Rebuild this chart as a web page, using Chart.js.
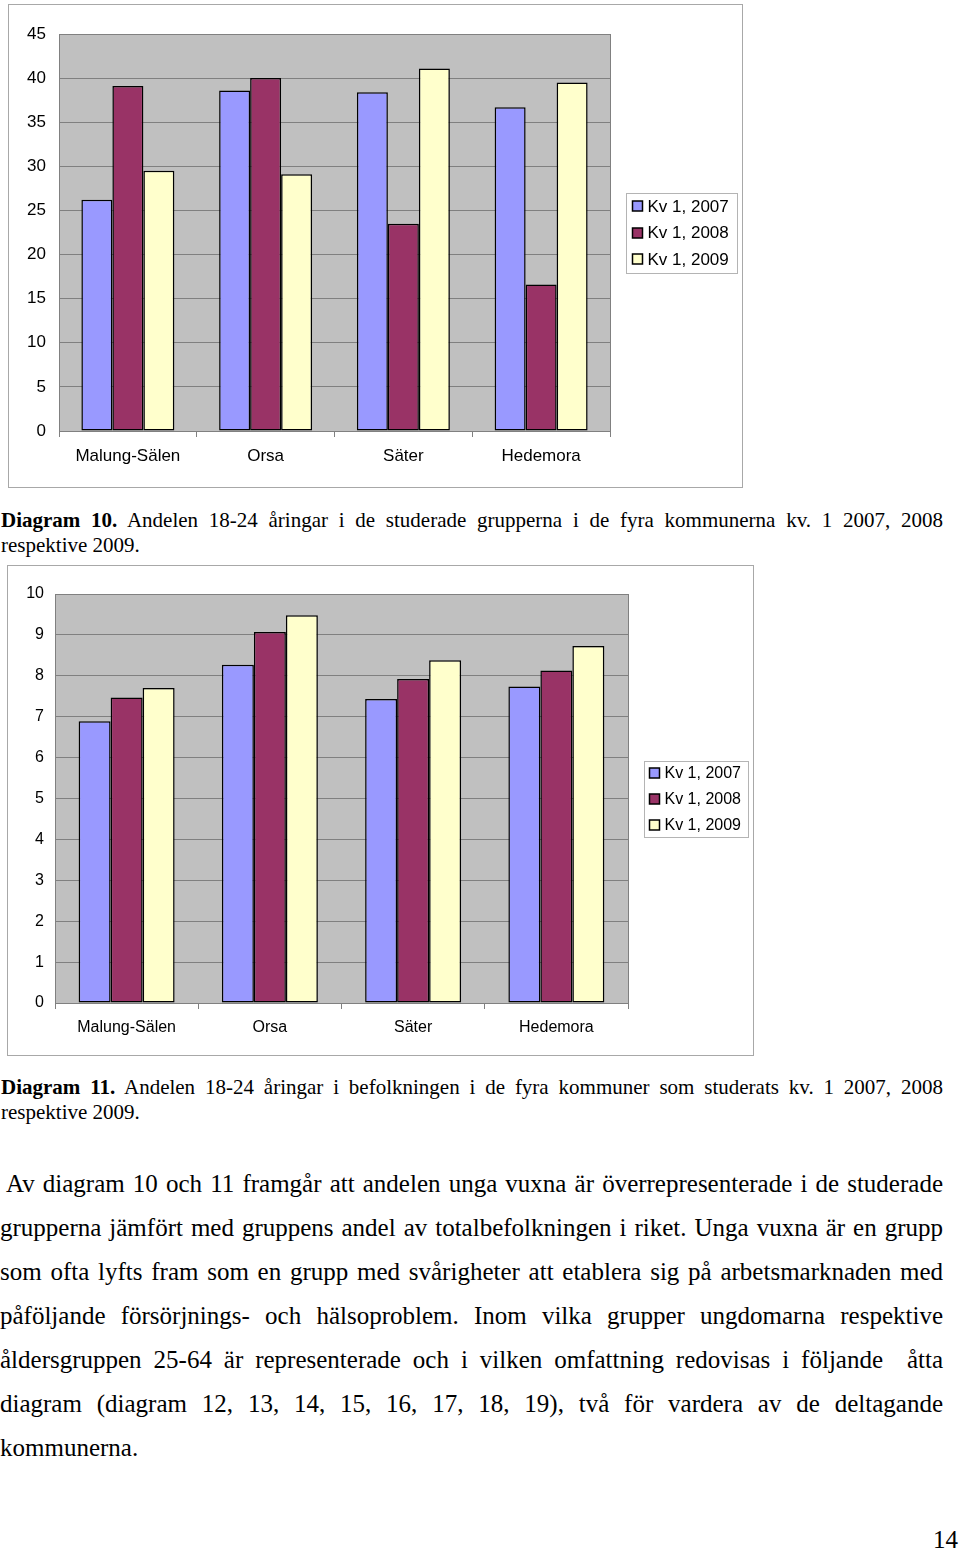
<!DOCTYPE html>
<html>
<head>
<meta charset="utf-8">
<script src="https://cdn.jsdelivr.net/npm/chart.js@4.4.1/dist/chart.umd.min.js"></script>
<style>
body{margin:0;background:#fff;width:960px;height:1550px;position:relative;font-family:"Liberation Serif","Times New Roman",serif;color:#000;}
.frame{position:absolute;border:1px solid #a8a8a8;box-sizing:border-box;}
.frame canvas{display:block;}
.cap{position:absolute;left:1px;width:942px;font-size:21px;line-height:25px;}
.txt{position:absolute;left:0;width:943px;font-size:25px;line-height:44px;}
.j{text-align:justify;text-align-last:justify;}
.pnr{position:absolute;right:2px;top:1526px;font-size:25px;line-height:28px;}
</style>
</head>
<body>

<div class="frame" style="left:8px;top:4px;width:735px;height:484px;"><canvas id="diagram10"></canvas></div>
<div class="cap" style="top:508px;">
  <div class="j"><b>Diagram 10.</b> Andelen 18-24 åringar i de studerade grupperna i de fyra kommunerna kv. 1 2007, 2008</div>
  <div>respektive 2009.</div>
</div>

<div class="frame" style="left:7px;top:565px;width:747px;height:491px;"><canvas id="diagram11"></canvas></div>
<div class="cap" style="top:1075px;">
  <div class="j"><b>Diagram 11.</b> Andelen 18-24 åringar i befolkningen i de fyra kommuner som studerats kv. 1 2007, 2008</div>
  <div>respektive 2009.</div>
</div>

<div class="txt" style="top:1162px;">
  <div class="j" style="padding-left:6px;">Av diagram 10 och 11 framgår att andelen unga vuxna är överrepresenterade i de studerade</div>
  <div class="j">grupperna jämfört med gruppens andel av totalbefolkningen i riket. Unga vuxna är en grupp</div>
  <div class="j">som ofta lyfts fram som en grupp med svårigheter att etablera sig på arbetsmarknaden med</div>
  <div class="j">påföljande försörjnings- och hälsoproblem. Inom vilka grupper ungdomarna respektive</div>
  <div class="j">åldersgruppen 25-64 är representerade och i vilken omfattning redovisas i följande &nbsp;åtta</div>
  <div class="j">diagram (diagram 12, 13, 14, 15, 16, 17, 18, 19), två för vardera av de deltagande</div>
  <div>kommunerna.</div>
</div>
<div class="pnr">14</div>

<script>
// data
const kommuner = ['Malung-Sälen', 'Orsa', 'Säter', 'Hedemora'];
const series = ['Kv 1, 2007', 'Kv 1, 2008', 'Kv 1, 2009'];
const colors = ['#9999ff', '#993366', '#ffffcc'];

// diagram 10: the studied groups
const grupp2007 = [26.2, 38.6, 38.4, 36.7];
const grupp2008 = [39.1, 40.0, 23.5, 16.6];
const grupp2009 = [29.5, 29.1, 41.1, 39.5];

// diagram 11: whole population
const bef2007 = [6.89, 8.27, 7.43, 7.74];
const bef2008 = [7.47, 9.07, 7.92, 8.13];
const bef2009 = [7.70, 9.48, 8.38, 8.73];

const sansFont = '"Liberation Sans", Arial, sans-serif';

// gray plot background + right edge of the plot
const plotBg = {
    id: 'plotBg',
    beforeDraw(chart){
        let a = chart.chartArea;
        let ctx = chart.ctx;
        ctx.save();
        ctx.fillStyle = '#c0c0c0';
        ctx.fillRect(a.left, a.top, a.right - a.left, a.bottom - a.top);
        ctx.restore();
    },
    beforeDatasetsDraw(chart){
        let a = chart.chartArea;
        let ctx = chart.ctx;
        ctx.save();
        ctx.strokeStyle = '#808080';
        ctx.lineWidth = 1;
        ctx.beginPath();
        ctx.moveTo(Math.round(a.right) + 0.5, a.top);
        ctx.lineTo(Math.round(a.right) + 0.5, a.bottom);
        ctx.stroke();
        ctx.restore();
    }
};

// excel style legend with a thin box, to the right of the plot
const boxLegend = {
    id: 'boxLegend',
    afterDraw(chart, args, opts){
        let a = chart.chartArea;
        let ctx = chart.ctx;
        let sets = chart.data.datasets;
        let left = Math.round(a.right + opts.gap) + 0.5;
        let mid = (a.top + a.bottom) / 2;
        let top = Math.round(mid - opts.height / 2) + 0.5;
        ctx.save();
        ctx.fillStyle = '#fff';
        ctx.fillRect(left, top, opts.width, opts.height);
        ctx.strokeStyle = '#b4b4b4';
        ctx.lineWidth = 1;
        ctx.strokeRect(left, top, opts.width, opts.height);
        ctx.font = opts.size + 'px ' + sansFont;
        ctx.textBaseline = 'middle';
        for(let i = 0; i < sets.length; i++){
            let y = mid + (i - 1) * opts.rowGap;
            let m = opts.marker;
            ctx.fillStyle = sets[i].backgroundColor;
            ctx.fillRect(left + opts.markerX, Math.round(y - m / 2), m, m);
            ctx.strokeStyle = '#000';
            ctx.lineWidth = 1.5;
            ctx.strokeRect(left + opts.markerX, Math.round(y - m / 2), m, m);
            ctx.fillStyle = '#000';
            ctx.fillText(sets[i].label, left + opts.textX, y + 1);
        }
        ctx.restore();
    }
};

function makeChart(id, values, cfg){
    let ctx = document.getElementById(id).getContext('2d');
    return new Chart(ctx, {
        type: 'bar',
        data: {
            labels: kommuner,
            datasets: values.map(function(v, i){
                return {
                    label: series[i],
                    data: v,
                    backgroundColor: colors[i],
                    borderColor: '#000',
                    borderWidth: 1.5,
                    borderSkipped: false,
                    categoryPercentage: cfg.catPct,
                    barPercentage: 1.0
                };
            })
        },
        options: {
            responsive: true,
            maintainAspectRatio: false,
            animation: false,
            layout: { padding: { top: cfg.padTop, right: cfg.padRight, left: 0, bottom: 0 } },
            plugins: {
                legend: { display: false },
                tooltip: { enabled: false },
                boxLegend: cfg.legend
            },
            scales: {
                x: {
                    grid: {
                        display: true,
                        drawOnChartArea: false,
                        drawTicks: true,
                        tickLength: 6,
                        color: '#808080',
                        offset: true
                    },
                    border: { color: '#808080', width: 1 },
                    ticks: {
                        color: '#000',
                        font: { family: sansFont, size: cfg.fontSize },
                        padding: cfg.xPad,
                        maxRotation: 0
                    },
                    afterFit: function(scale){ scale.height = cfg.xHeight; }
                },
                y: {
                    min: 0,
                    max: cfg.yMax,
                    grid: { color: '#808080', drawTicks: false },
                    border: { color: '#808080', width: 1 },
                    ticks: {
                        stepSize: cfg.yStep,
                        color: '#000',
                        font: { family: sansFont, size: cfg.fontSize },
                        padding: cfg.yPad
                    },
                    afterFit: function(scale){ scale.width = cfg.yWidth; }
                }
            }
        },
        plugins: [plotBg, boxLegend]
    });
}

makeChart('diagram10', [grupp2007, grupp2008, grupp2009], {
    catPct: 0.675, padTop: 29, padRight: 132, fontSize: 17,
    xPad: 9, xHeight: 56, yMax: 45, yStep: 5, yPad: 13, yWidth: 50,
    legend: { gap: 16, width: 111, height: 80, rowGap: 26.5, size: 17, marker: 10, markerX: 6, textX: 21 }
});

makeChart('diagram11', [bef2007, bef2008, bef2009], {
    catPct: 0.67, padTop: 28, padRight: 125, fontSize: 16,
    xPad: 9, xHeight: 52, yMax: 10, yStep: 1, yPad: 11, yWidth: 47,
    legend: { gap: 16, width: 104, height: 76, rowGap: 26, size: 16, marker: 10, markerX: 5, textX: 20 }
});
</script>
</body>
</html>
